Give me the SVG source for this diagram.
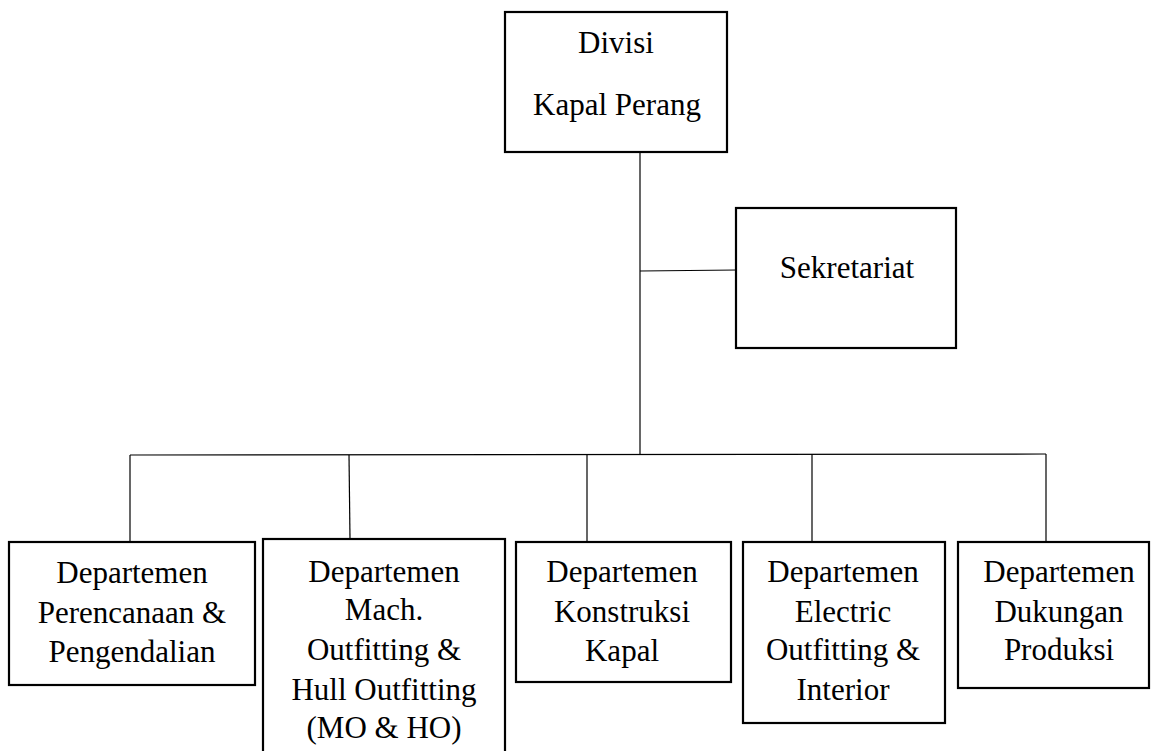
<svg xmlns="http://www.w3.org/2000/svg" width="1152" height="751" viewBox="0 0 1152 751">
<style>
.box{fill:#fff;stroke:#000;stroke-width:2.2}
.ln{stroke:#000;stroke-width:1.2;fill:none}
.t{font-family:'Times New Roman','Liberation Serif','DejaVu Serif',serif;font-size:31px;fill:#000;text-anchor:middle}
</style>
<rect width="1152" height="751" fill="#fff"/>
<g id="connectors">
<line class="ln" x1="640" y1="152" x2="640" y2="455"/>
<line class="ln" x1="640" y1="271" x2="737" y2="270"/>
<line class="ln" x1="130" y1="455" x2="1046" y2="454"/>
<line class="ln" x1="130" y1="455" x2="130" y2="542"/>
<line class="ln" x1="349" y1="455" x2="350" y2="539"/>
<line class="ln" x1="587" y1="455" x2="587" y2="542"/>
<line class="ln" x1="812" y1="454" x2="812" y2="542"/>
<line class="ln" x1="1046" y1="454" x2="1046" y2="542"/>
</g>
<g id="divisi" class="t">
<rect class="box" x="505" y="12" width="222" height="140"/>
<text x="616" y="53">Divisi</text>
<text x="617" y="115">Kapal Perang</text>
</g>
<g id="sekretariat" class="t">
<rect class="box" x="736" y="208" width="220" height="140"/>
<text x="847" y="278">Sekretariat</text>
</g>
<g id="dept1" class="t">
<rect class="box" x="9" y="542" width="246" height="143"/>
<text x="132" y="583">Departemen</text>
<text x="132" y="623">Perencanaan &amp;</text>
<text x="132" y="662">Pengendalian</text>
</g>
<g id="dept2" class="t">
<rect class="box" x="263" y="539" width="242" height="230"/>
<text x="384" y="582">Departemen</text>
<text x="384" y="620">Mach.</text>
<text x="384" y="660">Outfitting &amp;</text>
<text x="384" y="700">Hull Outfitting</text>
<text x="384" y="738">(MO &amp; HO)</text>
</g>
<g id="dept3" class="t">
<rect class="box" x="516" y="542" width="215" height="140"/>
<text x="622" y="582">Departemen</text>
<text x="622" y="622">Konstruksi</text>
<text x="622" y="661">Kapal</text>
</g>
<g id="dept4" class="t">
<rect class="box" x="743" y="542" width="202" height="181"/>
<text x="843" y="582">Departemen</text>
<text x="843" y="622">Electric</text>
<text x="843" y="660">Outfitting &amp;</text>
<text x="843" y="700">Interior</text>
</g>
<g id="dept5" class="t">
<rect class="box" x="958" y="542" width="191" height="146"/>
<text x="1059" y="582">Departemen</text>
<text x="1059" y="622">Dukungan</text>
<text x="1059" y="660">Produksi</text>
</g>
</svg>
